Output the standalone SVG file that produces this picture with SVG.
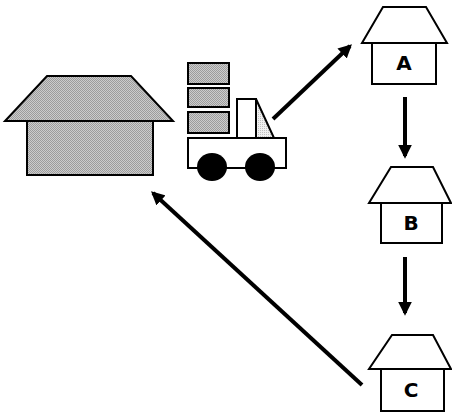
<svg xmlns="http://www.w3.org/2000/svg" width="452" height="413" viewBox="0 0 452 413">
  <style>
    .line { stroke: #000; stroke-width: 2; stroke-linejoin: miter; }
    .shade { fill: url(#dither); }
    .light { fill: url(#ditherLight); }
    .plain { fill: #fff; }
    .conn { stroke: #000; stroke-width: 4; fill: none; marker-end: url(#head); }
    .label { font-family: "DejaVu Sans", Verdana, sans-serif; font-weight: bold; font-size: 20px; text-anchor: middle; fill: #000; }
  </style>
  <defs>
    <pattern id="dither" width="2" height="2" patternUnits="userSpaceOnUse">
      <rect width="2" height="2" fill="#cccccc"/>
      <rect width="1" height="1" fill="#9c9c9c"/>
      <rect x="1" y="1" width="1" height="1" fill="#9c9c9c"/>
    </pattern>
    <pattern id="ditherLight" width="2" height="2" patternUnits="userSpaceOnUse">
      <rect width="2" height="2" fill="#f0f0f0"/>
      <rect width="1" height="1" fill="#c0c0c0"/>
    </pattern>
    <marker id="head" viewBox="0 0 10 10" refX="8" refY="5" markerWidth="3.4" markerHeight="3.4" orient="auto" markerUnits="strokeWidth">
      <path d="M0,0 L10,5 L0,10 z" fill="#000"/>
    </marker>
  </defs>

  <!-- depot -->
  <g id="depot">
    <polygon class="shade line" points="47,76 131,76 173,121 5,121"/>
    <rect class="shade line" x="27" y="121" width="126" height="54"/>
  </g>

  <!-- delivery truck -->
  <g id="truck">
    <rect class="shade line" x="188" y="63" width="41" height="21"/>
    <rect class="shade line" x="188" y="88" width="41" height="19"/>
    <rect class="shade line" x="188" y="112" width="41" height="21"/>
    <rect class="plain line" x="237" y="99" width="19" height="39"/>
    <polygon class="light line" points="256,99 274,138 256,138"/>
    <rect class="plain line" x="188" y="138" width="98" height="30"/>
    <ellipse cx="212" cy="167" rx="15" ry="14" fill="#000"/>
    <ellipse cx="260" cy="167" rx="15" ry="14" fill="#000"/>
  </g>

  <!-- customer A -->
  <g id="house-a">
    <polygon class="plain line" points="383,7 426,7 447,43 362,43"/>
    <rect class="plain line" x="372" y="43" width="64" height="41"/>
    <text class="label" x="404" y="70">A</text>
  </g>

  <!-- customer B -->
  <g id="house-b">
    <polygon class="plain line" points="391,167 433,167 451,203 369,203"/>
    <rect class="plain line" x="381" y="203" width="61" height="40"/>
    <text class="label" x="411" y="230">B</text>
  </g>

  <!-- customer C -->
  <g id="house-c">
    <polygon class="plain line" points="392,335 433,335 451,369 369,369"/>
    <rect class="plain line" x="381" y="369" width="63" height="42"/>
    <text class="label" x="411" y="397">C</text>
  </g>

  <!-- routes -->
  <g id="connectors">
    <line class="conn" x1="273" y1="119" x2="350" y2="46"/>
    <line class="conn" x1="405" y1="97" x2="405" y2="156"/>
    <line class="conn" x1="405" y1="257" x2="405" y2="313"/>
    <line class="conn" x1="362" y1="385" x2="153" y2="193"/>
  </g>
</svg>
